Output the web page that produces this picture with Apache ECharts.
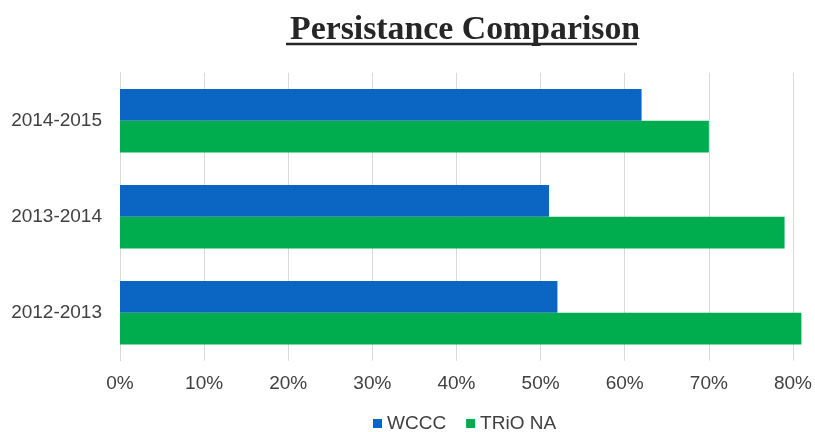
<!DOCTYPE html>
<html>
<head>
<meta charset="utf-8">
<script src="https://cdn.jsdelivr.net/npm/echarts@6/dist/echarts.min.js"></script>
<style>html,body{margin:0;padding:0;background:#fff}#c{width:815px;height:432px}</style>
</head>
<body>
<div id="c"></div>
<script>
const categories = ['2014-2015', '2013-2014', '2012-2013'];
const wccc = [0.62, 0.51, 0.52];
const trio = [0.70, 0.79, 0.81];
const seriesNames = ['WCCC', 'TRiO NA'];
const titleText = 'Persistance Comparison';

const chart = echarts.init(document.getElementById('c'), null, {renderer: 'canvas'});
chart.setOption({
  animation: false,
  backgroundColor: '#ffffff',
  title: {
    text: titleText,
    left: 285, top: 8,
    textStyle: {fontFamily: 'Liberation Serif', fontWeight: 'bold', fontSize: 33.8, color: '#262626'}
  },
  graphic: [{
    type: 'line', shape: {x1: 286, y1: 44, x2: 637, y2: 44},
    style: {stroke: '#262626', lineWidth: 2.5}
  }],
  legend: {
    data: seriesNames,
    left: 368, top: 409,
    icon: 'rect', itemWidth: 9, itemHeight: 9, itemGap: 20,
    textStyle: {fontFamily: 'Liberation Sans', fontSize: 19, color: '#404040'}
  },
  grid: {left: 120, right: 19.5, top: 72.7, bottom: 71.3, containLabel: false},
  xAxis: {
    type: 'value', min: 0, max: 0.8, interval: 0.1,
    axisLine: {show: false}, axisTick: {show: false},
    splitLine: {show: true, lineStyle: {color: '#d9d9d9', width: 1}},
    axisLabel: {
      margin: 14, color: '#404040', fontFamily: 'Liberation Sans', fontSize: 19,
      formatter: v => Math.round(v * 100) + '%'
    }
  },
  yAxis: {
    type: 'category', data: categories, inverse: true,
    axisLine: {show: true, lineStyle: {color: '#d9d9d9'}},
    axisTick: {show: false},
    axisLabel: {margin: 18, color: '#404040', fontFamily: 'Liberation Sans', fontSize: 19}
  },
  series: [
    {name: seriesNames[0], type: 'bar', data: wccc, clip: false, itemStyle: {color: '#0A66C2'}, barGap: '0%', barCategoryGap: '34%'},
    {name: seriesNames[1], type: 'bar', data: trio, clip: false, itemStyle: {color: '#00AD4E'}, barGap: '0%', barCategoryGap: '34%'}
  ]
});
</script>
</body>
</html>
